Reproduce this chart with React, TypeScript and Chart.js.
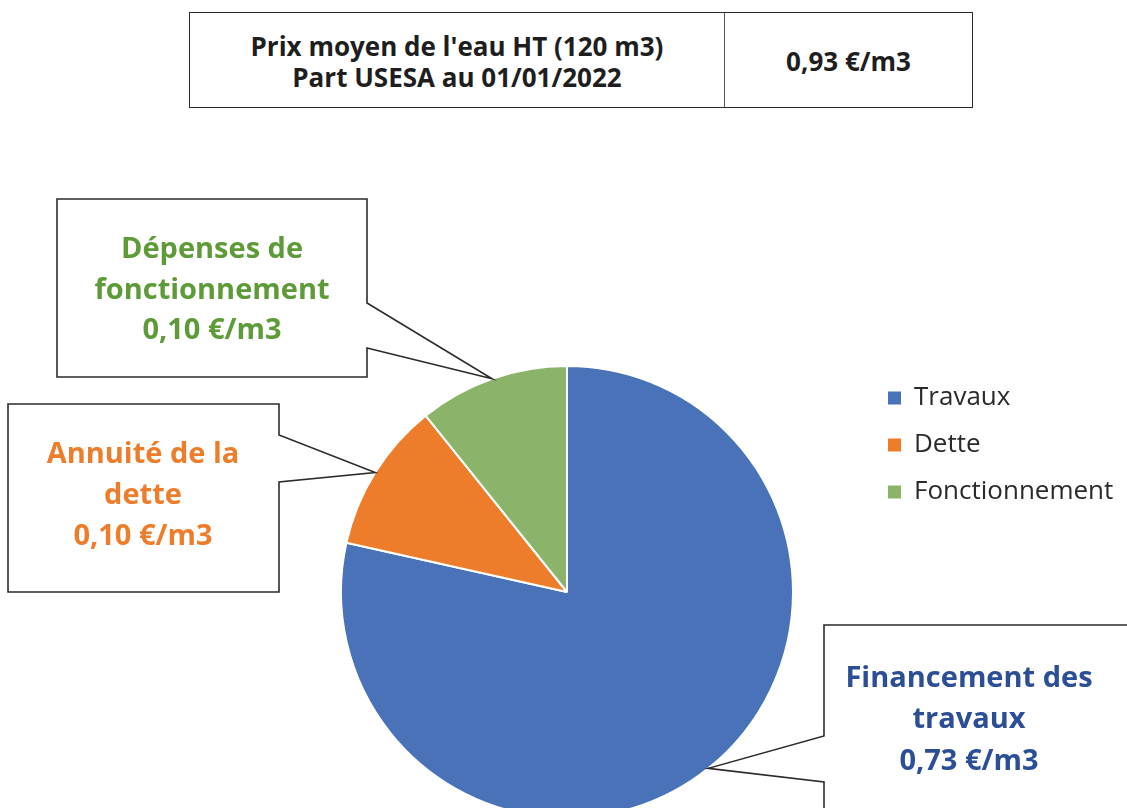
import React, { useEffect, useRef } from "react";
import { Chart, registerables } from "chart.js";

Chart.register(...registerables);

const labels = ["Travaux", "Dette", "Fonctionnement"];
const values = [0.73, 0.1, 0.1];
const sliceColors = ["#4A72B9", "#EE7D2B", "#8BB36A"];
const calloutTitles = [["Financement des", "travaux"], ["Annuité de la", "dette"], ["Dépenses de", "fonctionnement"]];
const calloutColors = ["#2C4E96", "#EE7D2B", "#5E9B38"];
const headerLines = ["Prix moyen de l'eau HT (120 m3)", "Part USESA au 01/01/2022"];
const unit = "€/m3";

const fmt = (v: number) => v.toFixed(2).replace(".", ",") + " " + unit;

// layout of callout boxes (px): l,t,r,b, side of pointer, y1, y2
const calloutBoxes = [
  { l: 824, t: 625, r: 1150, b: 860, side: "left", y1: 736, y2: 782, cx: 969, ty: [679, 720, 762] },
  { l: 8, t: 404, r: 279, b: 592, side: "right", y1: 435, y2: 482, cx: 143, ty: [455, 496, 537] },
  { l: 57, t: 199, r: 367, b: 377, side: "right", y1: 303, y2: 348, cx: 212, ty: [250, 291, 331] },
];

const FONT = "'Open Sans', Lato, sans-serif";

const overlayPlugin = {
  id: "overlay",
  afterDatasetsDraw(chart: any) {
    const ctx = chart.ctx;
    const meta = chart.getDatasetMeta(0);
    ctx.save();
    meta.data.forEach((arc: any, i: number) => {
      const p = arc.getProps(["x", "y", "startAngle", "endAngle", "outerRadius"], true);
      const a = (p.startAngle + p.endAngle) / 2;
      const tx = p.x + Math.cos(a) * p.outerRadius;
      const ty = p.y + Math.sin(a) * p.outerRadius;
      const bx = calloutBoxes[i];
      ctx.beginPath();
      if (bx.side === "right") {
        ctx.moveTo(bx.l, bx.t);
        ctx.lineTo(bx.r, bx.t);
        ctx.lineTo(bx.r, bx.y1);
        ctx.lineTo(tx, ty);
        ctx.lineTo(bx.r, bx.y2);
        ctx.lineTo(bx.r, bx.b);
        ctx.lineTo(bx.l, bx.b);
      } else {
        ctx.moveTo(bx.l, bx.t);
        ctx.lineTo(bx.r, bx.t);
        ctx.lineTo(bx.r, bx.b);
        ctx.lineTo(bx.l, bx.b);
        ctx.lineTo(bx.l, bx.y2);
        ctx.lineTo(tx, ty);
        ctx.lineTo(bx.l, bx.y1);
      }
      ctx.closePath();
      ctx.fillStyle = "#ffffff";
      ctx.fill();
      ctx.lineWidth = 1.6;
      ctx.strokeStyle = "#2b2b2b";
      ctx.lineJoin = "miter";
      ctx.stroke();
      const lines = [...calloutTitles[i], fmt(values[i])];
      ctx.fillStyle = calloutColors[i];
      ctx.font = "bold 29px " + FONT;
      ctx.textAlign = "center";
      ctx.textBaseline = "middle";
      lines.forEach((s, k) => ctx.fillText(s, bx.cx, bx.ty[k]));
    });
    // legend
    const lx = 888;
    const ly = [398, 445, 492];
    labels.forEach((lab, i) => {
      ctx.fillStyle = sliceColors[i];
      ctx.fillRect(lx, ly[i] - 6.5, 13, 13);
      ctx.fillStyle = "#2a2a2a";
      ctx.font = "26px " + FONT;
      ctx.textAlign = "left";
      ctx.textBaseline = "middle";
      ctx.fillText(lab, lx + 26, ly[i]);
    });
    ctx.restore();
  },
};

export default function App() {
  const ref = useRef<HTMLCanvasElement>(null);
  useEffect(() => {
    document.body.style.margin = "0";
    const chart = new Chart(ref.current!, {
      type: "pie",
      data: {
        labels,
        datasets: [
          {
            data: values,
            backgroundColor: sliceColors,
            borderColor: "#ffffff",
            borderWidth: 2,
            hoverOffset: 0,
            radius: 226,
          } as any,
        ],
      },
      options: {
        animation: false,
        responsive: false,
        layout: { padding: { left: 341, right: 1127 - 793, top: 366, bottom: 860 - 818 } },
        plugins: { legend: { display: false }, tooltip: { enabled: false } },
      },
      plugins: [overlayPlugin],
    });
    return () => chart.destroy();
  }, []);
  const total = values.reduce((a, b) => a + b, 0);
  return (
    <div style={{ position: "fixed", left: 0, top: 0, width: 1127, height: 808, overflow: "hidden", background: "#fff" }}>
      <canvas ref={ref} width={1127} height={860} style={{ position: "absolute", left: 0, top: 0 }} />
      <div
        style={{
          position: "absolute",
          left: 189,
          top: 12,
          width: 784,
          height: 96,
          boxSizing: "border-box",
          border: "1.6px solid #2b2b2b",
          display: "flex",
          fontFamily: FONT,
          fontWeight: 700,
          color: "#1e1e1e",
          background: "#fff",
        }}
      >
        <div
          style={{
            width: 535,
            borderRight: "1.2px solid #555",
            display: "flex",
            flexDirection: "column",
            justifyContent: "center",
            alignItems: "center",
            fontSize: 26,
            lineHeight: "31px",
            paddingTop: 4,
            boxSizing: "border-box",
          }}
        >
          {headerLines.map((s) => (
            <div key={s}>{s}</div>
          ))}
        </div>
        <div
          style={{
            flex: 1,
            display: "flex",
            justifyContent: "center",
            alignItems: "center",
            fontSize: 26,
            paddingTop: 2,
            boxSizing: "border-box",
          }}
        >
          {fmt(total)}
        </div>
      </div>
    </div>
  );
}
